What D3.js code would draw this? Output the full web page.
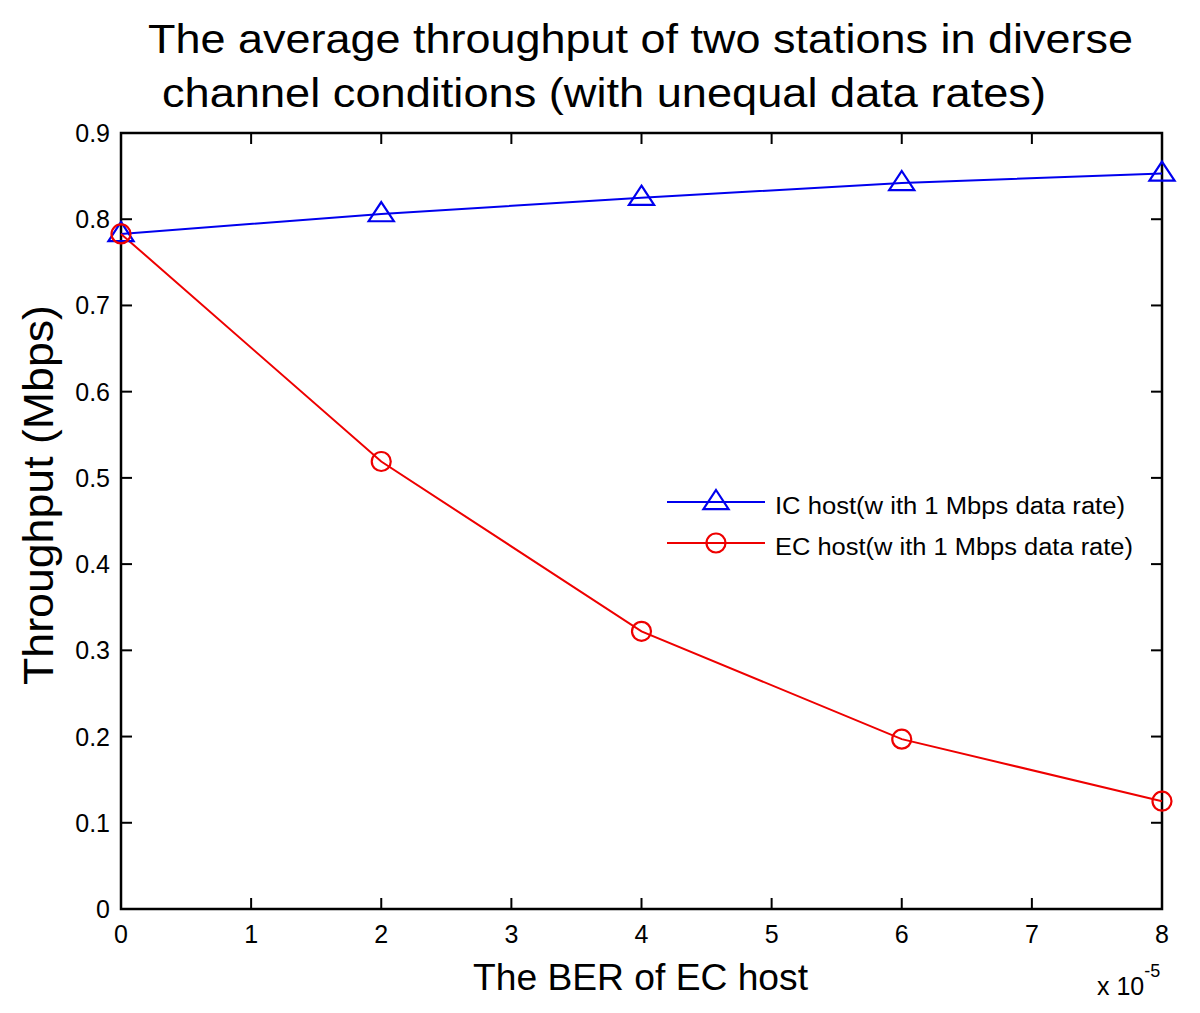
<!DOCTYPE html>
<html><head><meta charset="utf-8">
<script src="https://cdn.jsdelivr.net/npm/d3@7"></script>
<style>body{margin:0;background:#fff}text{font-family:"Liberation Sans",Arial,sans-serif}</style>
</head><body><svg id="c" width="1200" height="1013"></svg>
<script>
const berValues = [0, 2, 4, 6, 8];
const icThroughput = [0.783, 0.806, 0.825, 0.842, 0.853];
const ecThroughput = [0.783, 0.519, 0.322, 0.197, 0.125];
const xTicks = [0,1,2,3,4,5,6,7,8];
const yTicks = [0,0.1,0.2,0.3,0.4,0.5,0.6,0.7,0.8,0.9];
const seriesNames = ["IC host(w ith 1 Mbps data rate)", "EC host(w ith 1 Mbps data rate)"];
const titleLines = ["The average throughput of two stations in diverse", "channel conditions (with unequal data rates)"];

const svg = d3.select("#c");
const L=121, R=1162, T=133, B=909;
const x = d3.scaleLinear().domain([0,8]).range([L,R]);
const y = d3.scaleLinear().domain([0,0.9]).range([B,T]);

// axes box
svg.append("rect").attr("x",L).attr("y",T).attr("width",R-L).attr("height",B-T)
  .attr("fill","none").attr("stroke","#000").attr("stroke-width",2.5);
const tl=11;
xTicks.forEach(t=>{
  svg.append("line").attr("x1",x(t)).attr("x2",x(t)).attr("y1",B).attr("y2",B-tl).attr("stroke","#000").attr("stroke-width",2);
  svg.append("line").attr("x1",x(t)).attr("x2",x(t)).attr("y1",T).attr("y2",T+tl).attr("stroke","#000").attr("stroke-width",2);
  svg.append("text").attr("x",x(t)).attr("y",B+34).attr("text-anchor","middle").attr("font-size",25).text(t);
});
yTicks.forEach(t=>{
  svg.append("line").attr("x1",L).attr("x2",L+tl).attr("y1",y(t)).attr("y2",y(t)).attr("stroke","#000").attr("stroke-width",2);
  svg.append("line").attr("x1",R).attr("x2",R-tl).attr("y1",y(t)).attr("y2",y(t)).attr("stroke","#000").attr("stroke-width",2);
  svg.append("text").attr("x",L-11).attr("y",y(t)+9).attr("text-anchor","end").attr("font-size",25).text(t===0?"0":d3.format(".1f")(t));
});

const line = d3.line().x(d=>x(d[0])).y(d=>y(d[1]));
const ic = berValues.map((b,i)=>[b,icThroughput[i]]);
const ec = berValues.map((b,i)=>[b,ecThroughput[i]]);
svg.append("path").datum(ic).attr("d",line).attr("fill","none").attr("stroke","#0000ee").attr("stroke-width",2);
svg.append("path").datum(ec).attr("d",line).attr("fill","none").attr("stroke","#ee0000").attr("stroke-width",2);
const tri = (cx,cy,s)=>`M${cx},${cy-s}L${cx+s*1.05},${cy+s*0.6}L${cx-s*1.05},${cy+s*0.6}Z`;
ic.forEach(d=>svg.append("path").attr("d",tri(x(d[0]),y(d[1]),12)).attr("fill","none").attr("stroke","#0000ee").attr("stroke-width",2.2));
ec.forEach(d=>svg.append("circle").attr("cx",x(d[0])).attr("cy",y(d[1])).attr("r",9.5).attr("fill","none").attr("stroke","#ee0000").attr("stroke-width",2.2));

// legend
const lx1=667, lx2=765, lm=716;
const ly=[502,543];
const lw=[350,358];
svg.append("line").attr("x1",lx1).attr("x2",lx2).attr("y1",ly[0]).attr("y2",ly[0]).attr("stroke","#0000ee").attr("stroke-width",2);
svg.append("path").attr("d",tri(lm,ly[0],12)).attr("fill","none").attr("stroke","#0000ee").attr("stroke-width",2.2);
svg.append("line").attr("x1",lx1).attr("x2",lx2).attr("y1",ly[1]).attr("y2",ly[1]).attr("stroke","#ee0000").attr("stroke-width",2);
svg.append("circle").attr("cx",lm).attr("cy",ly[1]).attr("r",9.5).attr("fill","none").attr("stroke","#ee0000").attr("stroke-width",2.2);
seriesNames.forEach((n,i)=>svg.append("text").attr("x",775).attr("y",ly[i]+12).attr("font-size",23)
  .attr("textLength",lw[i]).attr("lengthAdjust","spacingAndGlyphs").text(n));

// title
svg.append("text").attr("x",148).attr("y",53).attr("font-size",41)
  .attr("textLength",985).attr("lengthAdjust","spacingAndGlyphs").text(titleLines[0]);
svg.append("text").attr("x",162).attr("y",107).attr("font-size",41)
  .attr("textLength",884).attr("lengthAdjust","spacingAndGlyphs").text(titleLines[1]);
// axis labels
svg.append("text").attr("x",473).attr("y",990).attr("font-size",37)
  .attr("textLength",335).attr("lengthAdjust","spacingAndGlyphs").text("The BER of EC host");
svg.append("text").attr("transform","translate(53,685) rotate(-90)").attr("font-size",42)
  .attr("textLength",380).attr("lengthAdjust","spacingAndGlyphs").text("Throughput (Mbps)");
// exponent
const ex = svg.append("text").attr("x",1097).attr("y",995).attr("font-size",25);
ex.append("tspan").text("x 10");
ex.append("tspan").attr("dy",-18).attr("font-size",18).text("-5");
</script></body></html>
